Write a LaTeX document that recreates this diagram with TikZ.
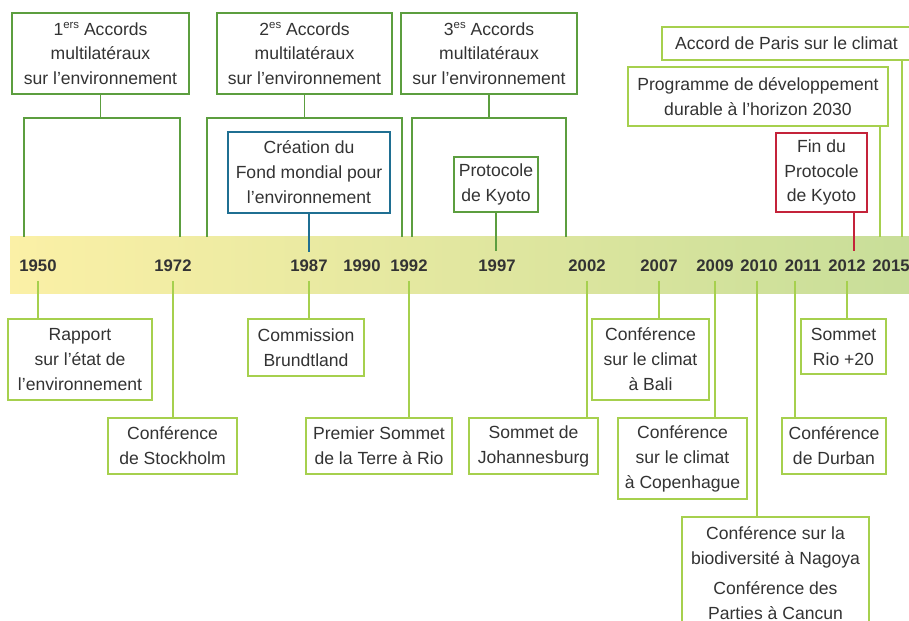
\documentclass[tikz,border=0pt]{standalone}
\usepackage{fontspec}
\setmainfont{Liberation Sans}
\usetikzlibrary{calc}
\definecolor{vertfonce}{HTML}{5C9E3F}
\definecolor{vertclair}{HTML}{A6D04E}
\definecolor{bleu}{HTML}{1F6F92}
\definecolor{rouge}{HTML}{C4233A}
\definecolor{texte}{HTML}{333333}
\definecolor{jaune}{HTML}{FBF0A6}
\definecolor{milieu}{HTML}{E5E9A6}
\definecolor{vertpale}{HTML}{C8DE99}
\newcommand{\expo}[1]{\raisebox{0.75ex}{\fontsize{6.5}{7}\selectfont #1}}

\begin{document}
\begin{tikzpicture}[x=0.02cm,y=-0.02cm,
	every node/.style={font=\fontsize{10}{14.2}\selectfont,text=texte},
	evt/.style n args={3}{draw=#1,fill=white,line width=1.1pt,align=center,inner sep=0pt,minimum width=#2*0.02cm,minimum height=#3*0.02cm},
	an/.style={font=\fontsize{9.5}{11}\selectfont\bfseries},
	lien/.style={line width=1.1pt}]
	          \useasboundingbox (0,0) rectangle (909,621);
	          %BANDE
	          \shade[left color=jaune,middle color=milieu,right color=vertpale] (10,237) rectangle (909,294);
	          %ANNEES
	          \node[an] (a1950) at (38,266) {1950};
	          \node[an] (a1972) at (173,266) {1972};
	          \node[an] (a1987) at (309,266) {1987};
	          \node[an] (a1990) at (362,266) {1990};
	          \node[an] (a1992) at (409,266) {1992};
	          \node[an] (a1997) at (497,266) {1997};
	          \node[an] (a2002) at (587,266) {2002};
	          \node[an] (a2007) at (659,266) {2007};
	          \node[an] (a2009) at (715,266) {2009};
	          \node[an] (a2010) at (759,266) {2010};
	          \node[an] (a2011) at (803,266) {2011};
	          \node[an] (a2012) at (847,266) {2012};
	          \node[an] (a2015) at (891,266) {2015};
	          %ACCORDS MULTILATERAUX
	          \node[evt={vertfonce}{177}{81}] (acc1) at (100.5,53.5) {1\expo{ers} Accords\\multilatéraux\\sur l’environnement};
	          \node[evt={vertfonce}{175}{81}] (acc2) at (304.5,53.5) {2\expo{es} Accords\\multilatéraux\\sur l’environnement};
	          \node[evt={vertfonce}{176}{81}] (acc3) at (489,53.5) {3\expo{es} Accords\\multilatéraux\\sur l’environnement};
	          \coordinate (c1g) at (24,118); \coordinate (c1d) at (180,118);
	          \coordinate (f1g) at (24,237); \coordinate (f1d) at (180,237);
	          \coordinate (c2g) at (207,118); \coordinate (c2d) at (402,118);
	          \coordinate (f2g) at (207,237); \coordinate (f2d) at (402,237);
	          \coordinate (c3g) at (412,118); \coordinate (c3d) at (566,118);
	          \coordinate (f3g) at (412,237); \coordinate (f3d) at (566,237);
	          \draw[lien,vertfonce] (acc1.south) -- (acc1.south |- c1g);
	          \draw[lien,vertfonce] (f1g) -- (c1g) -- (c1d) -- (f1d);
	          \draw[lien,vertfonce] (acc2.south) -- (acc2.south |- c2g);
	          \draw[lien,vertfonce] (f2g) -- (c2g) -- (c2d) -- (f2d);
	          \draw[lien,vertfonce] (acc3.south) -- (acc3.south |- c3g);
	          \draw[lien,vertfonce] (f3g) -- (c3g) -- (c3d) -- (f3d);
	          %EVENEMENTS DU HAUT
	          \coordinate (h1987) at (309,252);
	          \coordinate (h1997) at (496,251);
	          \coordinate (h2012) at (854,251);
	          \coordinate (h2030) at (880,237);
	          \coordinate (h2015) at (902,237);
	          \node[evt={bleu}{162}{81}] (fem) at (309,172.5) {Création du\\Fond mondial pour\\l’environnement};
	          \node[evt={vertfonce}{84}{55}] (kyoto) at (496,184.5) {Protocole\\de Kyoto};
	          \node[evt={vertclair}{249}{33}] (paris) at (786.5,43.5) {Accord de Paris sur le climat};
	          \node[evt={vertclair}{260}{59}] (odd) at (758,96.5) {Programme de développement\\durable à l’horizon 2030};
	          \node[evt={rouge}{91}{79}] (finkyoto) at (821.5,172.5) {Fin du\\Protocole\\de Kyoto};
	          \draw[lien,bleu] (fem.south) -- (h1987);
	          \draw[lien,vertfonce] (kyoto.south) -- (h1997);
	          \draw[lien,vertclair] (paris.south -| h2015) -- (h2015);
	          \draw[lien,vertclair] (odd.south -| h2030) -- (h2030);
	          \draw[lien,rouge] (finkyoto.south -| h2012) -- (h2012);
	          %EVENEMENTS DU BAS
	          \coordinate (b1950) at (38,281);
	          \coordinate (b1972) at (173,281);
	          \coordinate (b1987) at (309,281);
	          \coordinate (b1992) at (409,281);
	          \coordinate (b2002) at (587,281);
	          \coordinate (b2007) at (659,281);
	          \coordinate (b2009) at (715,281);
	          \coordinate (b2010) at (757,281);
	          \coordinate (b2011) at (795,281);
	          \coordinate (b2012) at (847,281);
	          \node[evt={vertclair}{144}{81}] (rapport) at (80,359.5) {Rapport\\sur l’état de\\l’environnement};
	          \node[evt={vertclair}{129}{56}] (stockholm) at (172.5,446) {Conférence\\de Stockholm};
	          \node[evt={vertclair}{116}{57}] (brundtland) at (306,347.5) {Commission\\Brundtland};
	          \node[evt={vertclair}{146}{56}] (rio) at (379,446) {Premier Sommet\\de la Terre à Rio};
	          \node[evt={vertclair}{129}{56}] (johannesburg) at (533.5,446) {Sommet de\\Johannesburg};
	          \node[evt={vertclair}{117}{81}] (bali) at (650.5,359.5) {Conférence\\sur le climat\\à Bali};
	          \node[evt={vertclair}{129}{81}] (copenhague) at (682.5,458.5) {Conférence\\sur le climat\\à Copenhague};
	          \node[evt={vertclair}{187}{113}] (nagoya) at (775.5,573.5) {Conférence sur la\\biodiversité à Nagoya\\[3pt]Conférence des\\Parties à Cancun};
	          \node[evt={vertclair}{85}{55}] (rio20) at (843.5,346.5) {Sommet\\Rio +20};
	          \node[evt={vertclair}{104}{56}] (durban) at (834,446) {Conférence\\de Durban};
	          \draw[lien,vertclair] (b1950) -- (b1950 |- rapport.north);
	          \draw[lien,vertclair] (b1972) -- (b1972 |- stockholm.north);
	          \draw[lien,vertclair] (b1987) -- (b1987 |- brundtland.north);
	          \draw[lien,vertclair] (b1992) -- (b1992 |- rio.north);
	          \draw[lien,vertclair] (b2002) -- (b2002 |- johannesburg.north);
	          \draw[lien,vertclair] (b2007) -- (b2007 |- bali.north);
	          \draw[lien,vertclair] (b2009) -- (b2009 |- copenhague.north);
	          \draw[lien,vertclair] (b2010) -- (b2010 |- nagoya.north);
	          \draw[lien,vertclair] (b2011) -- (b2011 |- durban.north);
	          \draw[lien,vertclair] (b2012) -- (b2012 |- rio20.north);
\end{tikzpicture}
\end{document}
